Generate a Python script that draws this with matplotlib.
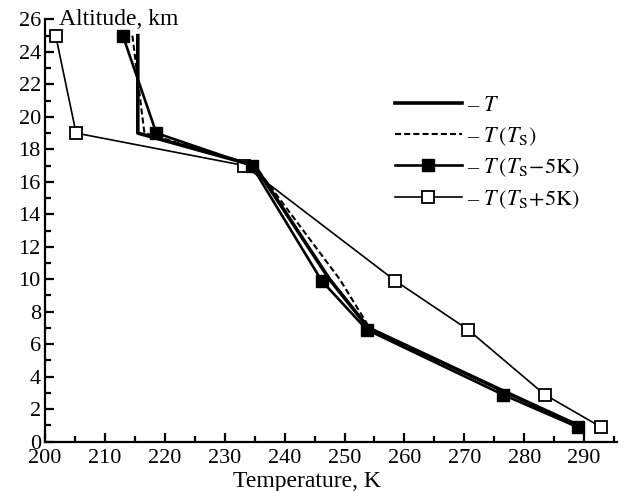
import matplotlib

matplotlib.use("Agg")
import matplotlib.pyplot as plt
from matplotlib.ticker import MultipleLocator
from matplotlib.transforms import ScaledTranslation

# temperature profiles (K) against altitude (km)
alt = [25, 19, 17, 10, 7, 3, 1]
t_base = [215.5, 215.5, 235.0, 247.5, 254.0, 277.2, 289.0]
t_ts = [214.6, 216.6, 235.0, 249.2, 254.2, 277.0, 289.0]

alt_pert = [25, 19, 17, 9.9, 6.9, 2.9, 0.9]
t_minus5 = [213.0, 218.6, 234.5, 246.2, 253.7, 276.4, 288.9]
t_plus5 = [201.8, 205.2, 233.3, 258.5, 270.6, 283.4, 292.8]

labels = [r"– $T$", r"– $T\,(T_{\rm S})$",
          r"– $T\,(T_{\rm S}\!-\!5{\rm K})$", r"– $T\,(T_{\rm S}\!+\!5{\rm K})$"]

plt.rcParams["font.family"] = ["Liberation Serif", "DejaVu Serif"]
plt.rcParams["mathtext.fontset"] = "stix"

fig = plt.figure(figsize=(6.24, 4.91), dpi=100)
ax = fig.add_axes([0.072, 0.1005, 0.917, 0.860])

ax.plot(t_plus5, alt_pert, color="black", lw=1.2, marker="s", ms=8,
        mfc="white", mec="black", mew=1.3, label=labels[3], zorder=2)
ax.plot(t_minus5, alt_pert, color="black", lw=1.9, marker="s", ms=8,
        mfc="black", mec="black", label=labels[2], zorder=3)
ax.plot(t_ts, alt, color="black", lw=1.5, ls=(0, (2.9, 1.5)), label=labels[1], zorder=4)
ax.plot(t_base, alt, color="black", lw=2.6, label=labels[0], zorder=5)

ax.set_xlim(200, 295.5)
ax.set_ylim(0, 26)
ax.xaxis.set_major_locator(MultipleLocator(10))
ax.xaxis.set_minor_locator(MultipleLocator(5))
ax.yaxis.set_major_locator(MultipleLocator(2))
ax.yaxis.set_minor_locator(MultipleLocator(1))
ax.set_xticks(range(200, 291, 10))

for side in ("top", "right"):
    ax.spines[side].set_visible(False)
for side in ("left", "bottom"):
    ax.spines[side].set_linewidth(1.6)

ax.tick_params(which="both", direction="in", width=1.6, labelsize=16)
ax.tick_params(which="major", length=6.5)
ax.tick_params(which="minor", length=4)
ax.tick_params(axis="x", pad=5)
ax.tick_params(axis="y", pad=3)

# lift the "0" label a little so it clears the "200" below it
zero_lbl = ax.yaxis.get_major_ticks()[0].label1
zero_lbl.set_transform(zero_lbl.get_transform()
                       + ScaledTranslation(0, 3 / 72, fig.dpi_scale_trans))

ax.text(202.4, 26, "Altitude, km", fontsize=17, ha="left", va="center")
ax.set_xlabel("Temperature, K", fontsize=17)
ax.xaxis.set_label_coords(0.458, -0.07)

handles, lbls = ax.get_legend_handles_labels()
order = [3, 2, 1, 0]
leg = ax.legend([handles[i] for i in order], [lbls[i] for i in order],
                loc="upper left", bbox_to_anchor=(0.612, 0.82),
                frameon=False, fontsize=16, handlelength=3.0,
                handletextpad=0.22, labelspacing=0.4, borderpad=0,
                borderaxespad=0, numpoints=1)

fig.savefig("out.png", dpi=100)
